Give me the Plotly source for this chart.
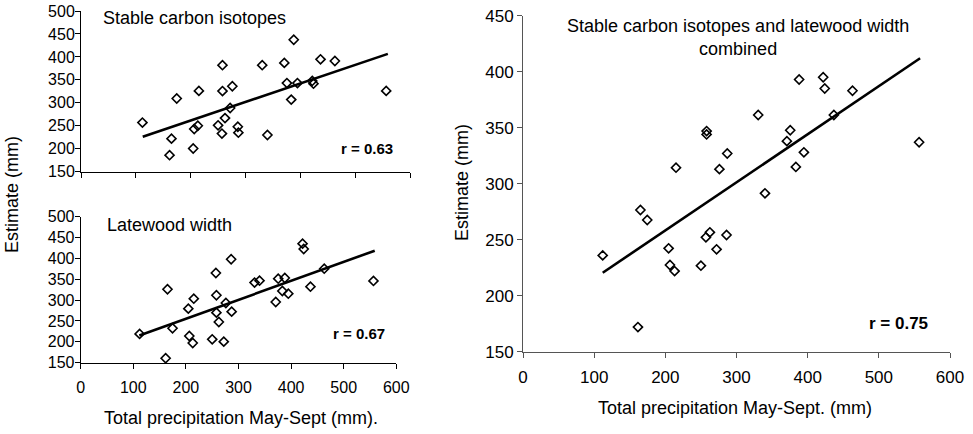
import plotly.graph_objects as go

# Total precipitation May-Sept (mm) - shared x values
precip = [112, 161.5, 165, 174.6, 204.6, 206.5, 213, 215, 250, 257, 258, 258, 262.6, 272,
          276, 286, 287, 330.5, 340, 370.8, 375.5, 383.4, 388, 394.7, 421.8, 424, 436.8,
          463, 556.6]

# Estimates (mm)
isotope_est = [257, 186, 222, 309.5, 200.5, 243, 250, 326, 251, 233, 382, 325.6, 266.7, 288.7,
               336, 248, 235, 382, 230, 387, 343, 307, 437.5, 343, 347.7, 341.7, 394.7,
               391, 326]
latewood_est = [219, 160.6, 326, 232.5, 279.6, 214, 197.3, 303.5, 206, 365, 311.6, 270, 247.7,
                200.5, 293, 398, 272.4, 342, 346.7, 295.6, 351.5, 322, 353, 315.5, 435.3,
                422.6, 332.3, 375.4, 346]
combined_est = [236, 172, 276.5, 267.6, 242.3, 227.4, 222, 314.3, 226.8, 252.1, 347, 344,
                256.6, 241.4, 313, 254.2, 327, 361.3, 291.4, 338, 347.7, 315, 393, 328, 395,
                385, 361.3, 383, 337]

# Regression line end points
isotope_fit_x = [112.6, 559.6]
isotope_fit_y = [226, 406.6]
latewood_fit_x = [111.4, 559]
latewood_fit_y = [215, 418.5]
combined_fit_x = [112, 558]
combined_fit_y = [220.5, 412]

r_labels = ["r = 0.63", "r = 0.67", "r = 0.75"]
panel_titles = ["Stable carbon isotopes", "Latewood width",
                "Stable carbon isotopes and latewood width<br>combined"]

FONT = "Liberation Sans, Arial, sans-serif"
W, H = 973, 434

fig = go.Figure()

panels = [
    ("x", "y", isotope_est, isotope_fit_x, isotope_fit_y),
    ("x2", "y2", latewood_est, latewood_fit_x, latewood_fit_y),
    ("x3", "y3", combined_est, combined_fit_x, combined_fit_y),
]
for xa, ya, est, fx, fy in panels:
    fig.add_trace(go.Scatter(
        x=precip, y=est, xaxis=xa, yaxis=ya, mode="markers",
        marker=dict(symbol="diamond-open", size=7, color="black",
                    line=dict(width=1.6, color="black")),
        showlegend=False, hoverinfo="x+y", cliponaxis=False))
    fig.add_trace(go.Scatter(
        x=fx, y=fy, xaxis=xa, yaxis=ya, mode="lines",
        line=dict(color="black", width=2.6), showlegend=False))


def px_x(p):
    return p / W


def px_y(p):
    return 1 - p / H


def axis(domain, rng, dtick, color, size, standoff, show_labels=True):
    return dict(domain=domain, range=rng, dtick=dtick, tick0=0, showgrid=False,
                zeroline=False, showline=True, linecolor=color, linewidth=1,
                ticks="outside", ticklen=5, tickwidth=1, tickcolor=color,
                showticklabels=show_labels, automargin=False,
                ticklabelstandoff=standoff,
                tickfont=dict(family=FONT, size=size, color="black"),
                fixedrange=True)


fig.update_layout(
    width=W, height=H,
    margin=dict(l=0, r=0, t=0, b=0, pad=0),
    paper_bgcolor="white", plot_bgcolor="white",
    font=dict(family=FONT, color="black"),
    xaxis=dict(axis([px_x(81), px_x(410)], [0, 600], 100, "black", 16, 0, False), anchor="y"),
    yaxis=dict(axis([px_y(171.7), px_y(11)], [150, 500], 50, "black", 16, -3), anchor="x"),
    xaxis2=dict(axis([px_x(80.7), px_x(396.3)], [0, 600], 100, "black", 16, 5), anchor="y2"),
    yaxis2=dict(axis([px_y(362.7), px_y(216.7)], [150, 500], 50, "black", 16, -3), anchor="x2"),
    xaxis3=dict(axis([px_x(523), px_x(950)], [0, 600], 100, "#555555", 17, 5), anchor="y3"),
    yaxis3=dict(axis([px_y(351.7), px_y(15.7)], [150, 450], 50, "#555555", 17, 0), anchor="x3"),
)

ann = []
ann.append(dict(text=panel_titles[0], x=px_x(101), y=px_y(18), xanchor="left",
                yanchor="middle", font=dict(size=18)))
ann.append(dict(text=panel_titles[1], x=px_x(105), y=px_y(225), xanchor="left",
                yanchor="middle", font=dict(size=18)))
ann.append(dict(text=panel_titles[2], x=px_x(738), y=px_y(38), xanchor="center",
                yanchor="middle", font=dict(size=18)))
ann.append(dict(text="<b>" + r_labels[0] + "</b>", x=px_x(367), y=px_y(148),
                xanchor="center", yanchor="middle", font=dict(size=15)))
ann.append(dict(text="<b>" + r_labels[1] + "</b>", x=px_x(359), y=px_y(333),
                xanchor="center", yanchor="middle", font=dict(size=15)))
ann.append(dict(text="<b>" + r_labels[2] + "</b>", x=px_x(898), y=px_y(323),
                xanchor="center", yanchor="middle", font=dict(size=17)))
ann.append(dict(text="Estimate (mm)", x=px_x(12), y=px_y(195), textangle=-90,
                xanchor="center", yanchor="middle", font=dict(size=18)))
ann.append(dict(text="Estimate (mm)", x=px_x(462), y=px_y(183), textangle=-90,
                xanchor="center", yanchor="middle", font=dict(size=18)))
ann.append(dict(text="Total precipitation May-Sept (mm).", x=px_x(241), y=px_y(418),
                xanchor="center", yanchor="middle", font=dict(size=18)))
ann.append(dict(text="Total precipitation May-Sept. (mm)", x=px_x(735), y=px_y(408),
                xanchor="center", yanchor="middle", font=dict(size=18)))
for a in ann:
    a.update(xref="paper", yref="paper", showarrow=False)
    a["font"].update(family=FONT, color="black")
fig.update_layout(annotations=ann)

fig.write_html("out.html",
               config={"displayModeBar": False},
               post_script="document.body.style.margin='0px';"
                           "document.body.style.overflow='hidden';")
